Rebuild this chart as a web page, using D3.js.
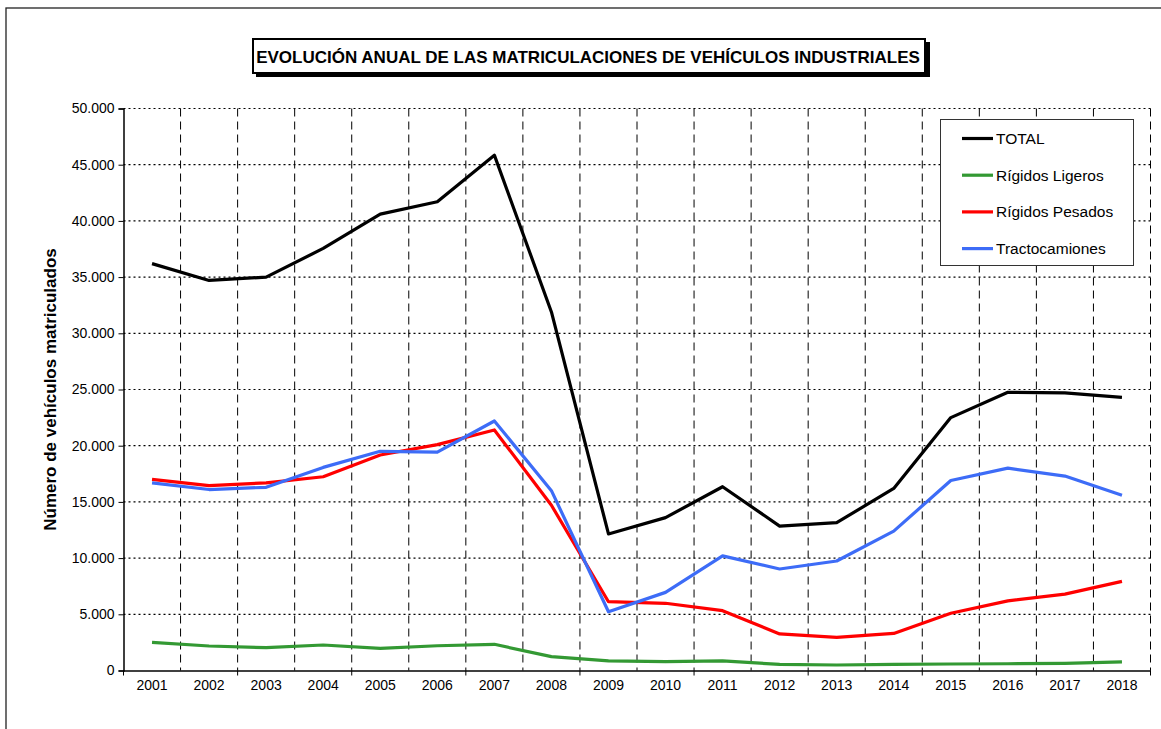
<!DOCTYPE html>
<head>
<script src="https://d3js.org/d3.v7.min.js"></script>
<meta charset="utf-8">
<style>
body { margin: 0; background: #fff; }
text { font-family: "Liberation Sans", Arial, sans-serif; fill: #000; }
</style>
</head>
<body>
<svg id="chart"></svg>
<script>

// data
var years = ["2001","2002","2003","2004","2005","2006","2007","2008","2009",
             "2010","2011","2012","2013","2014","2015","2016","2017","2018"];

var total     = [36200, 34700, 35000, 37550, 40600, 41700, 45850, 31900, 12150,
                 13600, 16350, 12850, 13150, 16200, 22500, 24750, 24700, 24300];
var ligeros   = [2500, 2180, 2030, 2270, 1970, 2200, 2330, 1230, 850,
                 790, 850, 550, 490, 550, 580, 600, 640, 760];
var pesados   = [17000, 16440, 16700, 17240, 19170, 20100, 21400, 14700, 6120,
                 5980, 5320, 3250, 2950, 3300, 5090, 6200, 6800, 7930];
var tracto    = [16700, 16100, 16300, 18070, 19500, 19430, 22200, 16000, 5230,
                 6950, 10200, 9030, 9740, 12400, 16900, 18000, 17300, 15600];

var yTicks = [0, 5000, 10000, 15000, 20000, 25000, 30000, 35000, 40000, 45000, 50000];

var seriesNames  = ["TOTAL", "Rígidos Ligeros", "Rígidos Pesados", "Tractocamiones"];
var seriesValues = [total, ligeros, pesados, tracto];
var seriesColors = ["#000000", "#339933", "#ff0000", "#3d6cf7"];

var titleText = "EVOLUCIÓN ANUAL DE LAS MATRICULACIONES DE VEHÍCULOS INDUSTRIALES";
var yLabel = "Número de vehículos matriculados";

// chart parameters
var width = 1161,
    height = 729;

var svg = d3.select("#chart")
    .attr("width", width)
    .attr("height", height);

// outer frame (only left and top visible)
svg.append("rect")
    .attr("x", 6).attr("y", 8)
    .attr("width", width + 20).attr("height", height + 20)
    .attr("fill", "none")
    .attr("stroke", "#222")
    .attr("stroke-width", 1.3);

var x = d3.scaleBand().domain(years).range([123.5, 1150.5]).padding(0);
var y = d3.scaleLinear().domain([0, 50000]).range([670.5, 108.5]);
var bw = x.bandwidth();

var es = d3.formatLocale({decimal: ",", thousands: ".", grouping: [3], currency: ["", ""]});
var fmt = es.format(",d");

// grid
var grid = svg.append("g");
grid.selectAll("line.h")
    .data(yTicks.filter(d => d > 0))
    .join("line")
    .attr("x1", x.range()[0]).attr("x2", x.range()[1])
    .attr("y1", d => y(d)).attr("y2", d => y(d))
    .attr("stroke", "#000")
    .attr("stroke-width", 1.2)
    .attr("stroke-dasharray", "2,3");

grid.selectAll("line.v")
    .data(years.slice(1).map(d => x(d)).concat([x.range()[1]]))
    .join("line")
    .attr("x1", d => d).attr("x2", d => d)
    .attr("y1", y(50000)).attr("y2", y(0))
    .attr("stroke", "#000")
    .attr("stroke-dasharray", "8,5");

// series
var line = d3.line()
    .x((d, i) => x(years[i]) + bw / 2)
    .y(d => y(d));

svg.append("g").selectAll("path")
    .data(seriesValues)
    .join("path")
    .attr("d", d => line(d))
    .attr("fill", "none")
    .attr("stroke", (d, i) => seriesColors[i])
    .attr("stroke-width", 3.2)
    .attr("stroke-linejoin", "round");

// y axis
var yAxis = svg.append("g")
    .attr("transform", "translate(" + x.range()[0] + ",0)")
    .call(d3.axisLeft(y).tickValues(yTicks).tickSize(5).tickPadding(4).tickFormat(fmt));
yAxis.select(".domain").attr("stroke", "#000").attr("stroke-width", 1.5);
yAxis.selectAll("text").style("font-size", "14px").attr("fill", "#111");

// x axis
var xAxis = svg.append("g")
    .attr("transform", "translate(0," + y(0) + ")")
    .call(d3.axisBottom(x).tickSize(0).tickPadding(10));
xAxis.select(".domain").attr("stroke", "#000").attr("stroke-width", 1.5);
xAxis.selectAll("text").style("font-size", "14px").attr("fill", "#111");

xAxis.selectAll("line.tk")
    .data(years.filter((d, i) => i % 2 === 0).map(d => x(d)).concat([x.range()[1]]))
    .join("line")
    .attr("class", "tk")
    .attr("x1", d => d).attr("x2", d => d)
    .attr("y1", 0).attr("y2", 5)
    .attr("stroke", "#000");

// y label
svg.append("text")
    .attr("transform", "translate(56," + (y(25000)) + ") rotate(-90)")
    .attr("text-anchor", "middle")
    .style("font-size", "17px")
    .style("font-weight", "bold")
    .text(yLabel);

// title box
svg.append("rect")
    .attr("x", 256).attr("y", 42)
    .attr("width", 674).attr("height", 35)
    .attr("fill", "#000");
svg.append("rect")
    .attr("x", 253).attr("y", 39)
    .attr("width", 672).attr("height", 34)
    .attr("fill", "#fff")
    .attr("stroke", "#000")
    .attr("stroke-width", 2);
svg.append("text")
    .attr("x", 588).attr("y", 63)
    .attr("text-anchor", "middle")
    .style("font-size", "17px")
    .style("font-weight", "bold")
    .text(titleText);

// legend
var legend = svg.append("g");
legend.append("rect")
    .attr("x", 940.5).attr("y", 119.5)
    .attr("width", 193).attr("height", 146)
    .attr("fill", "#fff")
    .attr("stroke", "#333");

var rows = legend.selectAll("g.row")
    .data(seriesNames)
    .join("g")
    .attr("class", "row")
    .attr("transform", (d, i) => "translate(962," + (138.5 + i * 36.7) + ")");
rows.append("line")
    .attr("x1", 0).attr("x2", 31)
    .attr("stroke", (d, i) => seriesColors[i])
    .attr("stroke-width", 3.2);
rows.append("text")
    .attr("x", 34).attr("y", 5.5)
    .style("font-size", "15.5px")
    .text(d => d);

</script>
</body>
